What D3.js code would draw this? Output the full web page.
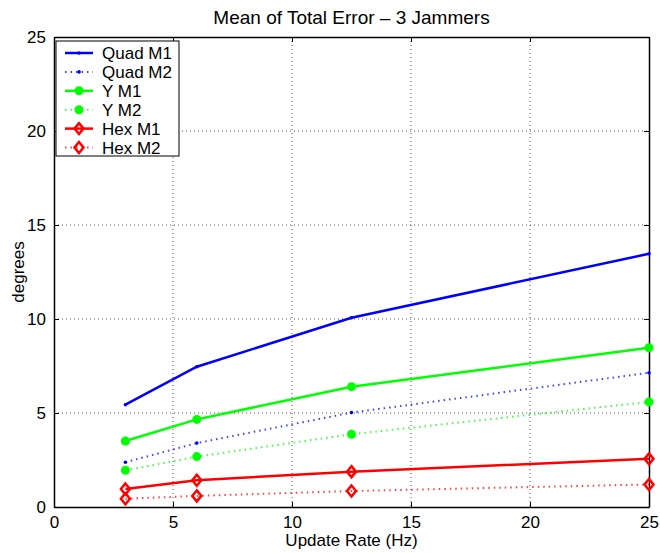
<!DOCTYPE html>
<html>
<head>
<meta charset="utf-8">
<script src="https://cdn.jsdelivr.net/npm/d3@7"></script>
<style>
  body { margin: 0; background: #fff; }
  svg { display: block; font-family: "Liberation Sans", Arial, sans-serif; }
</style>
</head>
<body>
<div id="chart"></div>
<script>
const rates = [3, 6, 12.5, 25];
const quadM1 = [5.44, 7.46, 10.07, 13.47];
const quadM2 = [2.38, 3.40, 5.02, 7.14];
const yM1 = [3.51, 4.66, 6.40, 8.47];
const yM2 = [1.95, 2.68, 3.87, 5.59];
const hexM1 = [0.96, 1.42, 1.88, 2.56];
const hexM2 = [0.44, 0.59, 0.85, 1.20];
const xTicks = [0, 5, 10, 15, 20, 25];
const yTicks = [0, 5, 10, 15, 20, 25];

const series = [
    { name: 'Quad M1', values: quadM1, color: '#0000ff', dotted: false, marker: 'point' },
    { name: 'Quad M2', values: quadM2, color: '#0000ff', dotted: true, marker: 'point' },
    { name: 'Y M1', values: yM1, color: '#00ff00', dotted: false, marker: 'circle' },
    { name: 'Y M2', values: yM2, color: '#00ff00', dotted: true, marker: 'circle' },
    { name: 'Hex M1', values: hexM1, color: '#ff0000', dotted: false, marker: 'diamond' },
    { name: 'Hex M2', values: hexM2, color: '#ff0000', dotted: true, marker: 'diamond' }
];

const W = 660, H = 553;
const margin = { top: 37, right: 11, bottom: 46, left: 54 };
const width = W - margin.left - margin.right;
const height = H - margin.top - margin.bottom;
const FONT = 17;

const svg = d3.select('#chart')
    .append('svg')
    .attr('width', W)
    .attr('height', H);

const g = svg.append('g')
    .attr('transform', `translate(${margin.left}, ${margin.top})`);

const xScale = d3.scaleLinear().domain([0, 25]).range([0, width]);
const yScale = d3.scaleLinear().domain([0, 25]).range([height, 0]);

// grid
g.selectAll('.vgrid')
    .data(xTicks.slice(1, -1))
    .enter().append('line')
    .attr('x1', d => xScale(d)).attr('x2', d => xScale(d))
    .attr('y1', 0).attr('y2', height)
    .attr('stroke', '#555')
    .attr('stroke-width', 1)
    .attr('stroke-dasharray', '1,3');

g.selectAll('.hgrid')
    .data(yTicks.slice(1, -1))
    .enter().append('line')
    .attr('y1', d => yScale(d)).attr('y2', d => yScale(d))
    .attr('x1', 0).attr('x2', width)
    .attr('stroke', '#555')
    .attr('stroke-width', 1)
    .attr('stroke-dasharray', '1,3');

// axes
const xAxis = g.append('g')
    .attr('transform', `translate(0, ${height})`)
    .call(d3.axisBottom(xScale).tickValues(xTicks).tickSizeInner(-5).tickSizeOuter(0).tickPadding(9));
const yAxis = g.append('g')
    .call(d3.axisLeft(yScale).tickValues(yTicks).tickSizeInner(-5).tickSizeOuter(0).tickPadding(8));
const xAxisTop = g.append('g')
    .call(d3.axisTop(xScale).tickValues(xTicks).tickSizeInner(-5).tickSizeOuter(0).tickFormat(''));
const yAxisRight = g.append('g')
    .attr('transform', `translate(${width}, 0)`)
    .call(d3.axisRight(yScale).tickValues(yTicks).tickSizeInner(-5).tickSizeOuter(0).tickFormat(''));

[xAxis, yAxis, xAxisTop, yAxisRight].forEach(a => {
    a.select('.domain').attr('stroke', '#000').attr('stroke-width', 1.5);
    a.selectAll('.tick line').attr('stroke', '#000');
    a.selectAll('.tick text').attr('font-size', FONT).attr('fill', '#000')
        .style('font-family', '"Liberation Sans", Arial, sans-serif');
});

// lines
const line = d3.line()
    .x((d, i) => xScale(rates[i]))
    .y(d => yScale(d));

series.forEach(s => {
    g.append('path')
        .datum(s.values)
        .attr('fill', 'none')
        .attr('stroke', s.color)
        .attr('stroke-width', s.dotted ? 2 : 2.5)
        .attr('stroke-opacity', s.dotted ? 0.75 : 1)
        .attr('stroke-dasharray', s.dotted ? '1.5,4' : null)
        .attr('d', line);

    drawMarkers(g, s, s.values.map((v, i) => [xScale(rates[i]), yScale(v)]));
});

function drawMarkers(parent, s, pts) {
    pts.forEach(([px, py]) => {
        if (s.marker === 'circle') {
            parent.append('circle')
                .attr('cx', px).attr('cy', py).attr('r', 4.5)
                .attr('fill', s.color);
        } else if (s.marker === 'diamond') {
            parent.append('path')
                .attr('d', `M${px},${py - 5.5}L${px + 4.5},${py}L${px},${py + 5.5}L${px - 4.5},${py}Z`)
                .attr('fill', 'none')
                .attr('stroke', s.color)
                .attr('stroke-width', 2.5);
        } else if (s.marker === 'point') {
            parent.append('circle')
                .attr('cx', px).attr('cy', py).attr('r', 1.8)
                .attr('fill', s.color);
        }
    });
}

// legend
const legend = g.append('g').attr('transform', 'translate(2, 4)');
legend.append('rect')
    .attr('x', 0).attr('y', 0)
    .attr('width', 123).attr('height', 115)
    .attr('fill', '#fff')
    .attr('stroke', '#000')
    .attr('stroke-width', 1);

series.forEach((s, i) => {
    const ly = 12 + i * 18.9;
    legend.append('line')
        .attr('x1', 9).attr('x2', 37)
        .attr('y1', ly).attr('y2', ly)
        .attr('stroke', s.color)
        .attr('stroke-width', s.dotted ? 2 : 2.5)
        .attr('stroke-opacity', s.dotted ? 0.75 : 1)
        .attr('stroke-dasharray', s.dotted ? '1.5,4' : null);
    drawMarkers(legend, s, [[23, ly]]);
    legend.append('text')
        .attr('x', 46).attr('y', ly + 6)
        .attr('font-size', FONT)
        .text(s.name);
});

// labels
svg.append('text')
    .attr('x', margin.left + width / 2)
    .attr('y', 24)
    .attr('text-anchor', 'middle')
    .attr('font-size', 19)
    .text('Mean of Total Error \u2013 3 Jammers');

svg.append('text')
    .attr('x', margin.left + width / 2)
    .attr('y', 546)
    .attr('text-anchor', 'middle')
    .attr('font-size', FONT)
    .text('Update Rate (Hz)');

svg.append('text')
    .attr('transform', 'rotate(-90)')
    .attr('x', -(margin.top + height / 2))
    .attr('y', 24)
    .attr('text-anchor', 'middle')
    .attr('font-size', FONT)
    .text('degrees');
</script>
</body>
</html>
